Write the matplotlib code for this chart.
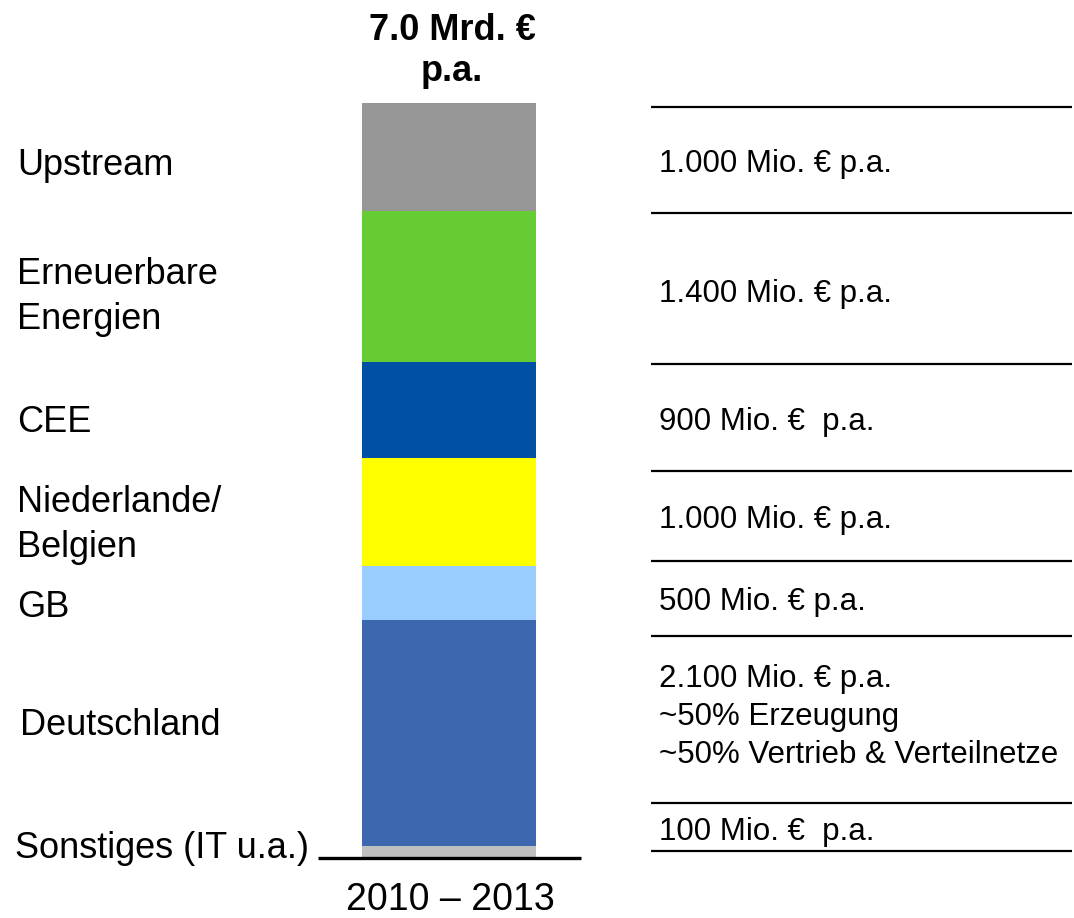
import matplotlib
matplotlib.use("Agg")
import matplotlib.pyplot as plt

# ---- data ----
segments = ["Sonstiges (IT u.a.)", "Deutschland", "GB", "Niederlande/\nBelgien",
            "CEE", "Erneuerbare\nEnergien", "Upstream"]
values = [100, 2100, 500, 1000, 900, 1400, 1000]  # Mio. € p.a.
colors = ["#C0C0C0", "#3D67AE", "#99CCFF", "#FFFF00", "#0050A5", "#66CC33", "#969696"]
value_texts = ["100 Mio. €  p.a.",
               "2.100 Mio. € p.a.\n~50% Erzeugung\n~50% Vertrieb & Verteilnetze",
               "500 Mio. € p.a.", "1.000 Mio. € p.a.", "900 Mio. €  p.a.",
               "1.400 Mio. € p.a.", "1.000 Mio. € p.a."]
period = "2010 – 2013"
title = "7.0 Mrd. €\np.a."

W, H = 1074, 918
plt.rcParams['font.family'] = ['Liberation Sans', 'DejaVu Sans']
fig = plt.figure(figsize=(W / 100, H / 100), dpi=100)

# bar axes: x in pixels, y in data units
total = sum(values)
y0_px, ytop_px = 857, 103
k = (y0_px - ytop_px) / total
ax = fig.add_axes([0, 0, 1, 1])
ax.set_xlim(0, W)
ax.set_ylim(-(H - y0_px) / k, total + ytop_px / k)
ax.axis("off")

bottom = 0
for v, c in zip(values, colors):
    ax.bar(449, v, width=174, bottom=bottom, color=c, edgecolor="none")
    bottom += v

# overlay axes in pixel coordinates for annotations
ov = fig.add_axes([0, 0, 1, 1], facecolor="none")
ov.set_xlim(0, W)
ov.set_ylim(H, 0)
ov.axis("off")


def multiline(x, y_first_baseline, s, pitch, **kw):
    for i, line in enumerate(s.split("\n")):
        ov.text(x, y_first_baseline + i * pitch, line, va="baseline", **kw)


fs_left = 26
fs_right = 22.5
left_pos = [(15, 858), (20, 735), (17, 617), (17, 512), (17, 432), (17, 284), (17, 175)]
for (x, y), s in zip(left_pos, segments):
    multiline(x, y, s, 45, fontsize=fs_left, ha="left")

right_y = [840, 687, 610, 528, 430, 302, 172]
for y, s in zip(right_y, value_texts):
    multiline(659, y, s, 38, fontsize=fs_right, ha="left")

for y in [107, 213, 364, 471, 561, 636, 803, 851]:
    ov.plot([651, 1072], [y, y], color="black", lw=1.6, solid_capstyle="butt")

ov.plot([318, 581], [858, 858], color="black", lw=2.4, solid_capstyle="butt")

ov.text(450, 910, period, fontsize=27, ha="center", va="baseline")
multiline(452, 40, title, 41, fontsize=26, fontweight="bold", ha="center")

fig.savefig("out.png", dpi=100)
